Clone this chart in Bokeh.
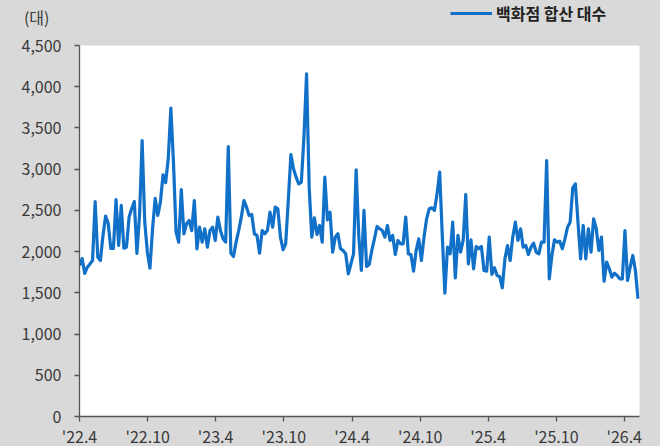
import pandas as pd
from bokeh.plotting import figure
from bokeh.layouts import column
from bokeh.models import (Range1d, FixedTicker, NumeralTickFormatter, Legend,
                          LegendItem)
from bokeh.embed import file_html
from bokeh.resources import INLINE

# ---------------- data ----------------
series_name = "백화점 합산 대수"
unit_label = "(대)"
start_date = "2022-04-01"
range_end_date = "2026-05-12"

values = [
    1832, 1916, 1735, 1811, 1850, 1892, 2608, 1933, 1892, 2196, 2430, 2341, 2038, 2038,
    2632, 2074, 2560, 2042, 2054, 2418, 2523, 2608, 1977, 2438, 3348, 2357, 1993, 1799,
    2280, 2645, 2438, 2600, 2931, 2835, 3126, 3740, 3085, 2236, 2114, 2753, 2216, 2337,
    2377,
    2256, 2620, 2034, 2297, 2115, 2277, 2054, 2256, 2297, 2135, 2418, 2256, 2155, 2115,
    3275, 1981, 1941, 2115, 2256, 2418, 2620, 2539, 2438, 2450, 2216, 2196, 1981, 2256,
    2216, 2256, 2478, 2297, 2539, 2519, 2175, 2022, 2095, 2620, 3178, 3005, 2903, 2822,
    2842, 3388, 4157, 2782, 2175, 2410, 2208, 2317, 2115, 2903, 2386, 2478, 1993, 2175,
    2216, 2034, 2014, 1973, 1731, 1852, 1973, 2992, 2196, 1771, 2499, 1820, 1844, 2014,
    2155, 2305, 2277, 2256, 2175, 2317, 2135, 2196, 1965, 2135, 2095, 2095, 2418, 1973,
    1965,
    1763, 2014, 2155, 1892, 2175, 2398, 2519, 2531, 2499, 2701, 2964, 2196, 1496, 2054,
    1973, 2357, 1682, 2196, 1993, 2135, 2693, 1852, 2143, 1791, 2062, 2034, 2062, 1771,
    1763, 2175, 1723, 1804, 1711, 1698, 1561, 1913, 2074, 1892, 2175, 2357, 2135,
    2277, 2054, 2074, 1965, 2054, 2102, 1993, 1973, 2115, 2115, 3105, 1670, 1953, 2143,
    2115, 2127, 2034, 2155, 2297, 2357, 2774, 2822, 2357, 1913, 2317, 1913, 2277, 1993,
    2398, 2277, 2014, 2175, 1641, 1872, 1791, 1690, 1738, 1711, 1670, 1670, 2256, 1650,
    1811, 1953, 1771, 1428,
]

xtick_dates = ["2022-04-01", "2022-10-01", "2023-04-01", "2023-10-01", "2024-04-01",
               "2024-10-01", "2025-04-01", "2025-10-01", "2026-04-01"]
xtick_labels = ["'22.4", "'22.10", "'23.4", "'23.10", "'24.4",
                "'24.10", "'25.4", "'25.10", "'26.4"]
ytick_values = [0, 500, 1000, 1500, 2000, 2500, 3000, 3500, 4000, 4500]

# ---------------- styling ----------------
FONT = "Noto Sans CJK KR"
BG = "#d9d9d9"
LINE_COLOR = "#1170C8"
TEXT_COLOR = "#3a3a3a"
AXIS_COLOR = "#555555"
LINE_W = 3.2

dates = pd.date_range(start_date, periods=len(values), freq="7D")

# ---------------- header strip (unit label + legend) ----------------
# its frame is aligned with the main chart frame by the column layout
HEAD_H = 30
head = figure(width=660, height=HEAD_H, x_range=Range1d(0, 1), y_range=Range1d(0, HEAD_H),
              x_axis_location=None, y_axis_location="left",
              output_backend="svg", toolbar_location=None,
              min_border_left=79, min_border_right=21, min_border_top=0,
              min_border_bottom=0)
head.grid.visible = False
head.outline_line_color = None
head.background_fill_color = BG
head.border_fill_color = BG

# unit label drawn as the strip's only y tick label
hy = head.yaxis[0]
hy.ticker = FixedTicker(ticks=[HEAD_H - 16])
hy.major_label_overrides = {HEAD_H - 16: unit_label}
hy.axis_line_color = None
hy.major_tick_line_color = None
hy.minor_tick_line_color = None
hy.major_tick_in = 0
hy.major_tick_out = 0
hy.major_label_standoff = 30
hy.major_label_text_font = FONT
hy.major_label_text_font_size = "16px"
hy.major_label_text_color = TEXT_COLOR

# legend proxy: same series, lies outside this strip's range (only its legend glyph shows)
legend_proxy = head.line(dates, values, line_width=LINE_W, line_color=LINE_COLOR)

legend = Legend(items=[LegendItem(label=series_name, renderers=[legend_proxy])],
                location=(371, HEAD_H - 25), orientation="horizontal",
                padding=0, margin=0, glyph_width=42, glyph_height=20,
                label_height=20, label_standoff=4,
                label_text_font=FONT, label_text_font_size="16px",
                label_text_font_style="bold", label_text_color="#222222",
                background_fill_alpha=0, border_line_color=None)
head.add_layout(legend)

# ---------------- main chart ----------------
p = figure(frame_width=560, frame_height=371,
           x_axis_type="datetime",
           x_range=Range1d(pd.Timestamp(start_date), pd.Timestamp(range_end_date)),
           y_range=Range1d(0, 4500),
           output_backend="svg", toolbar_location=None,
           min_border_left=79, min_border_top=45 - HEAD_H, min_border_right=21,
           min_border_bottom=30)

p.background_fill_color = "white"
p.border_fill_color = BG
p.outline_line_color = None
p.xgrid.visible = False
p.ygrid.visible = False

p.line(dates, values, line_width=LINE_W, line_color=LINE_COLOR, line_join="round")

# x axis
tick_ms = [int(pd.Timestamp(d).value // 10**6) for d in xtick_dates]
xa = p.xaxis[0]
xa.ticker = FixedTicker(ticks=tick_ms)
xa.major_label_overrides = {t: lab for t, lab in zip(tick_ms, xtick_labels)}
xa.minor_tick_line_color = None
xa.major_tick_in = 0
xa.major_tick_out = 5
xa.major_label_standoff = 2
xa.axis_line_color = AXIS_COLOR
xa.axis_line_width = 1.3
xa.major_tick_line_color = AXIS_COLOR
xa.major_tick_line_width = 1.3
xa.major_label_text_font = FONT
xa.major_label_text_font_size = "16px"
xa.major_label_text_color = TEXT_COLOR

# y axis
ya = p.yaxis[0]
ya.ticker = FixedTicker(ticks=ytick_values)
ya.formatter = NumeralTickFormatter(format="0,0")
ya.minor_tick_line_color = None
ya.major_tick_in = 0
ya.major_tick_out = 5
ya.major_label_standoff = 13
ya.axis_line_color = AXIS_COLOR
ya.axis_line_width = 1.3
ya.major_tick_line_color = AXIS_COLOR
ya.major_tick_line_width = 1.3
ya.major_label_text_font = FONT
ya.major_label_text_font_size = "16px"
ya.major_label_text_color = TEXT_COLOR

page = column(head, p, spacing=0)

open("out.html", "w").write(file_html(page, INLINE).replace(
    "<body>", '<body style="margin:0;background-color:#d9d9d9;">'))
